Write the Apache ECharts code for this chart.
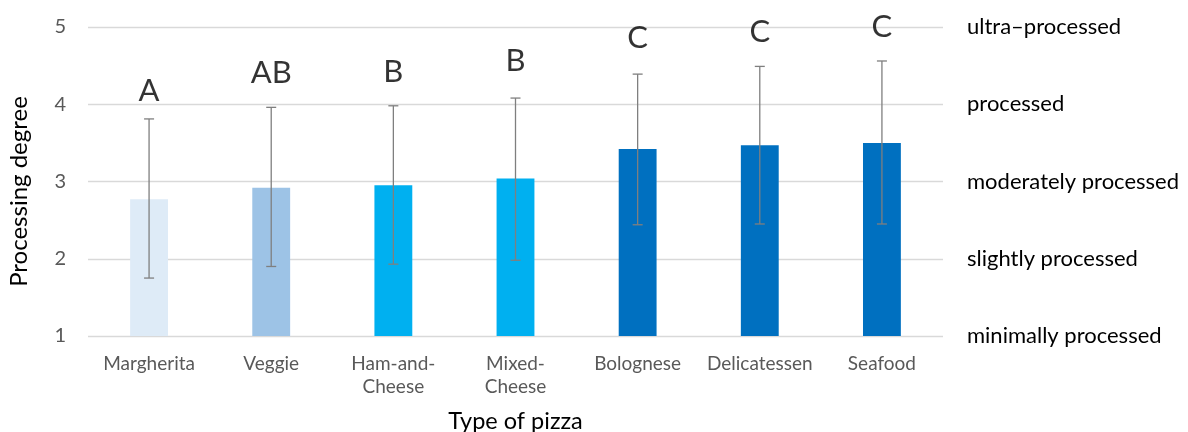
<!DOCTYPE html>
<html>
<head>
<meta charset="utf-8">
<script src="https://cdn.jsdelivr.net/npm/echarts@6/dist/echarts.min.js"></script>
<style>
html,body{margin:0;padding:0;background:#fff;}
#chart{width:1188px;height:432px;}
</style>
</head>
<body>
<div id="chart"></div>
<script>
var categories = ['Margherita', 'Veggie', 'Ham-and-\nCheese', 'Mixed-\nCheese', 'Bolognese', 'Delicatessen', 'Seafood'];
var means = [2.77, 2.92, 2.95, 3.04, 3.42, 3.47, 3.50];
var errLow = [1.75, 1.90, 1.93, 1.98, 2.44, 2.45, 2.45];
var errHigh = [3.81, 3.96, 3.98, 4.08, 4.39, 4.49, 4.56];
var groupLetters = ['A', 'AB', 'B', 'B', 'C', 'C', 'C'];
var letterY = [4.17, 4.40, 4.42, 4.56, 4.86, 4.94, 5.00];
var yTicks = [1, 2, 3, 4, 5];
var levelNames = ['minimally processed', 'slightly processed', 'moderately processed', 'processed', 'ultra\u2013processed'];

var barColors = ['#DEEBF7', '#9DC3E6', '#00B0F0', '#00B0F0', '#0070C0', '#0070C0', '#0070C0'];
var FONT = 'Lato, "Open Sans", sans-serif';

var chart = echarts.init(document.getElementById('chart'), null, {renderer: 'canvas'});

var option = {
  animation: false,
  grid: {left: 88, right: 245, top: 27, bottom: 96, containLabel: false, outerBoundsMode: 'none'},
  xAxis: {
    type: 'category',
    data: categories,
    name: 'Type of pizza',
    nameLocation: 'middle',
    nameGap: 73,
    nameTextStyle: {color: '#000', fontSize: 23.5, fontFamily: FONT},
    axisLine: {show: false},
    axisTick: {show: false},
    axisLabel: {color: '#595959', fontSize: 19, fontFamily: FONT, margin: 16, lineHeight: 23, interval: 0}
  },
  yAxis: [{
    type: 'value',
    min: yTicks[0],
    max: yTicks[yTicks.length - 1],
    interval: 1,
    name: 'Processing degree',
    nameLocation: 'middle',
    nameGap: 57,
    nameTextStyle: {color: '#000', fontSize: 24, fontFamily: FONT, padding: [0, 0, 0, -20]},
    axisLine: {show: false},
    axisTick: {show: false},
    axisLabel: {color: '#595959', fontSize: 20, fontFamily: FONT, margin: 22},
    splitLine: {lineStyle: {color: '#D9D9D9', width: 1.3}}
  }, {
    type: 'value',
    position: 'right',
    min: yTicks[0],
    max: yTicks[yTicks.length - 1],
    interval: 1,
    axisLine: {show: false},
    axisTick: {show: false},
    splitLine: {show: false},
    axisLabel: {
      color: '#000', fontSize: 22, fontFamily: FONT, margin: 24, align: 'left',
      formatter: function (v) { var i = yTicks.indexOf(v); return i >= 0 ? levelNames[i] : ''; }
    }
  }],
  series: [{
    type: 'bar',
    data: means.map(function (v, i) { return {value: v, itemStyle: {color: barColors[i]}}; }),
    barWidth: '31%',
    z: 2
  }, {
    type: 'custom',
    z: 5,
    data: categories.map(function (c, i) { return [i, errLow[i], errHigh[i]]; }),
    renderItem: function (params, api) {
      var x = api.value(0);
      var lo = api.coord([x, api.value(1)]);
      var hi = api.coord([x, api.value(2)]);
      var half = 5;
      var st = {stroke: '#7F7F7F', lineWidth: 1.3};
      return {
        type: 'group',
        children: [
          {type: 'line', shape: {x1: hi[0], y1: hi[1], x2: lo[0], y2: lo[1]}, style: st},
          {type: 'line', shape: {x1: hi[0] - half, y1: hi[1], x2: hi[0] + half, y2: hi[1]}, style: st},
          {type: 'line', shape: {x1: lo[0] - half, y1: lo[1], x2: lo[0] + half, y2: lo[1]}, style: st}
        ]
      };
    }
  }, {
    type: 'scatter',
    z: 6,
    symbolSize: 0,
    data: letterY.map(function (v, i) { return {value: [i, v], name: groupLetters[i]}; }),
    label: {
      show: true,
      position: 'inside',
      formatter: function (p) { return p.name; },
      color: '#000',
      fontSize: 31,
      fontFamily: FONT
    }
  }]
};
chart.setOption(option);
</script>
</body>
</html>
